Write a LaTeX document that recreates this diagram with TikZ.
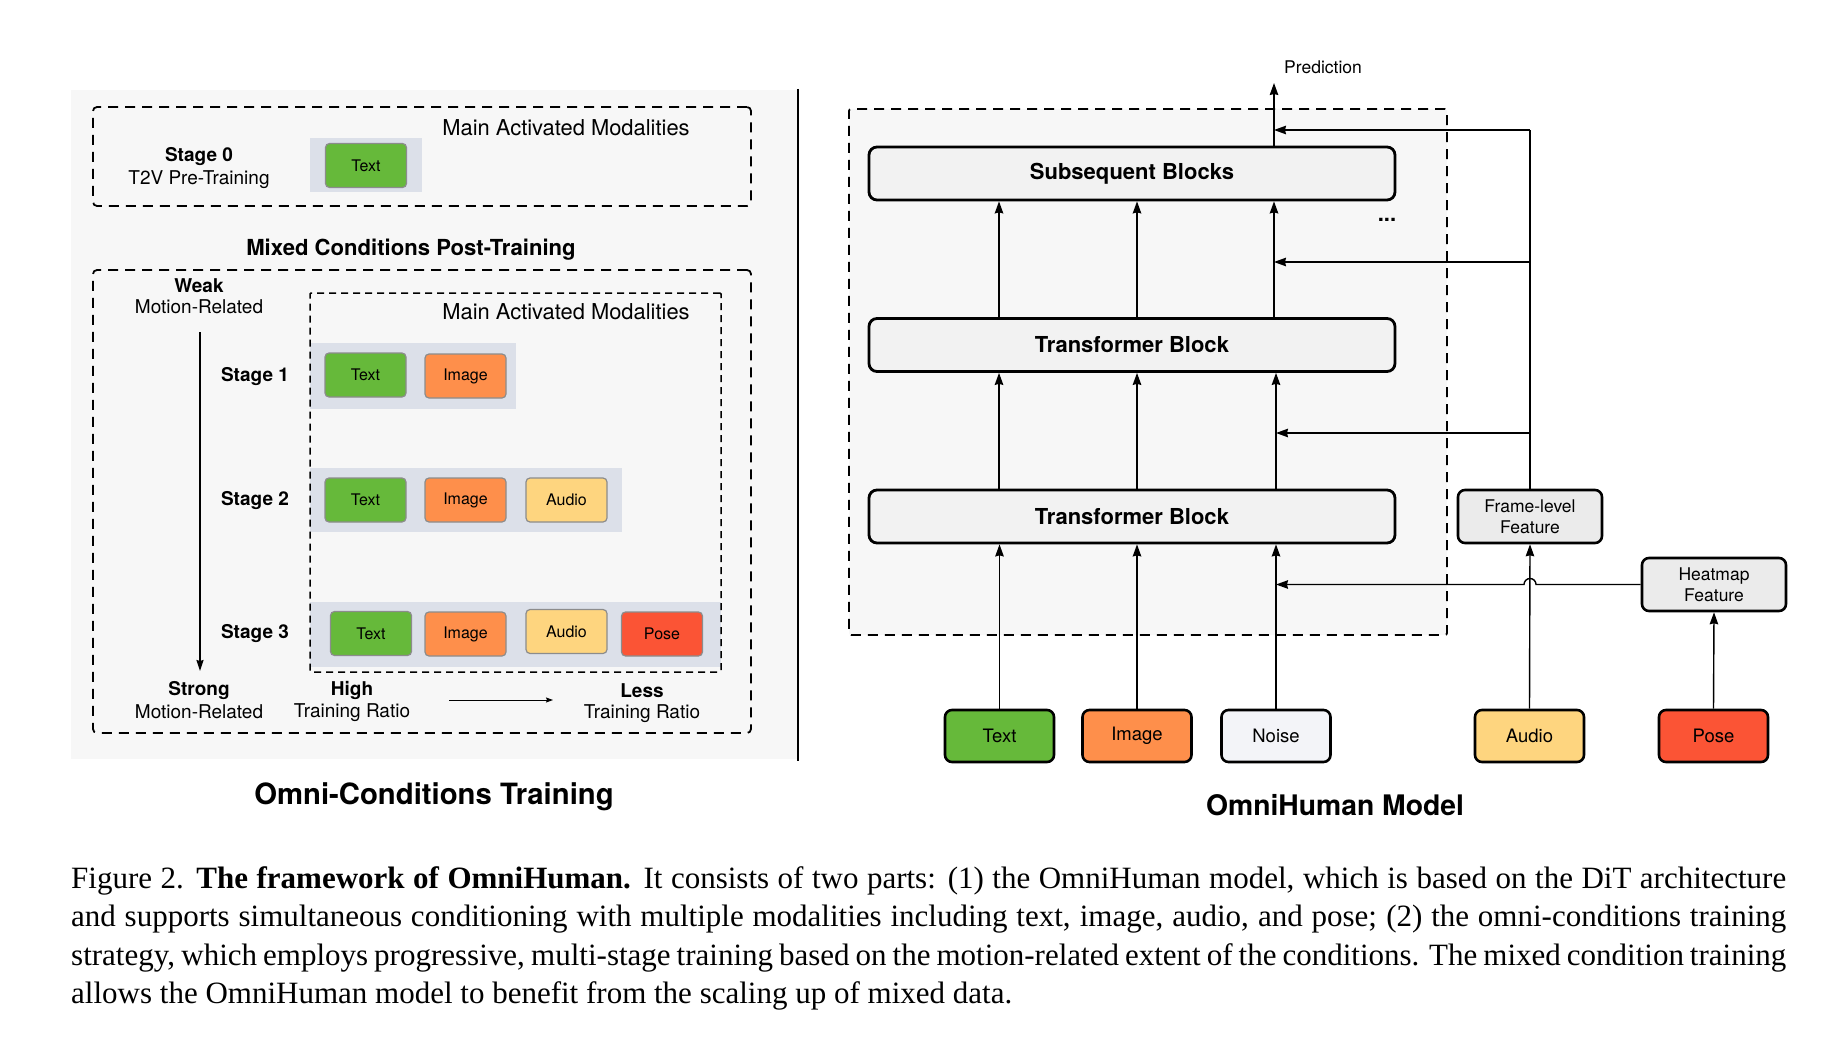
\documentclass[tikz,border=0pt]{standalone}
\usepackage{fontspec}
\setmainfont{Liberation Serif}
\newfontfamily\hv{TeX Gyre Heros}
\usetikzlibrary{arrows.meta}
\definecolor{bgpanel}{HTML}{F7F7F7}
\definecolor{modpanel}{HTML}{DCE0E9}
\definecolor{cgreen}{HTML}{66B93A}
\definecolor{corange}{HTML}{FE8F4B}
\definecolor{cyellow}{HTML}{FED57F}
\definecolor{cred}{HTML}{FB5435}
\definecolor{cnoise}{HTML}{F3F4F8}
\definecolor{cblock}{HTML}{F2F2F2}
\definecolor{cfeat}{HTML}{EBEBEB}
\begin{document}
\begin{tikzpicture}[x=1pt,y=-1pt,
  dbox/.style={draw, line width=1.8pt, dash pattern=on 10pt off 7pt, rounded corners=4pt, inner sep=0pt},
  panel/.style={fill=modpanel, inner sep=0pt},
  modbox/.style={draw=black!45, line width=1.2pt, rounded corners=4pt, minimum width=81pt, minimum height=44pt, inner sep=0pt, font=\hv\fontsize{16}{19}\selectfont},
  inbox/.style={draw=black, line width=2.6pt, rounded corners=7pt, minimum width=109pt, minimum height=52pt, inner sep=0pt, font=\hv\fontsize{18.5}{22}\selectfont},
  block/.style={draw=black, fill=cblock, line width=2.8pt, rounded corners=8pt, minimum width=526pt, minimum height=53pt, inner sep=0pt, font=\hv\bfseries\fontsize{22}{26}\selectfont},
  feat/.style={draw=black, fill=cfeat, line width=2.6pt, rounded corners=7pt, minimum width=144pt, minimum height=53pt, inner sep=0pt, align=center, font=\hv\fontsize{17.5}{19}\selectfont},
  lbl/.style={inner sep=0pt, font=\hv\fontsize{19}{22}\selectfont},
  blbl/.style={inner sep=0pt, font=\hv\bfseries\fontsize{19}{22}\selectfont},
  arr/.style={line width=1.4pt, -{Stealth[length=12pt,width=8.5pt,inset=1pt]}},
  ln/.style={line width=1.4pt}
]
\useasboundingbox (0,0) rectangle (1848,1038);
% ---------- left panel ----------
\fill[bgpanel] (71,90) rectangle (798,759);
\draw[line width=2pt] (798,89) -- (798,761);

\node[dbox, minimum width=658pt, minimum height=99pt] (s0frame) at (422,156.5) {};
\node[dbox, minimum width=658pt, minimum height=463pt] (mixframe) at (422,501.5) {};

\node[panel, minimum width=112pt, minimum height=54pt] (p0) at (366,165) {};
\node[panel, minimum width=206pt, minimum height=66pt] (p1) at (413,376) {};
\node[panel, minimum width=312pt, minimum height=64pt] (p2) at (466,500) {};
\node[panel, minimum width=411pt, minimum height=65pt] (p3) at (515.5,634.5) {};

\node[dbox, line width=1.5pt, dash pattern=on 7pt off 5pt, rounded corners=1pt, minimum width=411pt, minimum height=379pt] (inframe) at (515.5,482.5) {};

\node[lbl, font=\hv\fontsize{21.9}{25}\selectfont] (mam0) at (566,128) {Main Activated Modalities};
\node[lbl, font=\hv\fontsize{21.9}{25}\selectfont] (mam1) at (566,312) {Main Activated Modalities};

\node[blbl] (st0) at (199,156.5) {Stage 0};
\node[lbl] (t2v) at (199,179.5) {T2V Pre-Training};

\node[modbox, fill=cgreen] (s0t) at (366,165.5) {Text};

\node[blbl, font=\hv\bfseries\fontsize{22.1}{25}\selectfont] (mixed) at (411,250) {Mixed Conditions Post-Training};

\node[blbl] (weak) at (199,286) {Weak};
\node[lbl] (weakmr) at (199,307) {Motion-Related};
\node[blbl] (strong) at (199,691) {Strong};
\node[lbl] (strongmr) at (199,712) {Motion-Related};
\coordinate (vtop) at (200,332);
\coordinate (vbot) at (200,671);
\draw[line width=1.3pt, -{Stealth[length=11pt,width=7pt,inset=1pt]}] (vtop) -- (vbot);

\node[blbl] (st1) at (255,376.5) {Stage 1};
\node[blbl] (st2) at (255,500.5) {Stage 2};
\node[blbl] (st3) at (255,633.5) {Stage 3};

\node[modbox, fill=cgreen] (s1t) at (365.5,375) {Text};
\node[modbox, fill=corange] (s1i) at (465.5,376) {Image};
\node[modbox, fill=cgreen] (s2t) at (365.5,500) {Text};
\node[modbox, fill=corange] (s2i) at (465.5,500) {Image};
\node[modbox, fill=cyellow] (s2a) at (566.5,500) {Audio};
\node[modbox, fill=cgreen] (s3t) at (371,633.5) {Text};
\node[modbox, fill=corange] (s3i) at (465.5,634) {Image};
\node[modbox, fill=cyellow] (s3a) at (566.5,631.5) {Audio};
\node[modbox, fill=cred] (s3p) at (662,634) {Pose};

\node[blbl] (high) at (352,690) {High};
\node[lbl] (hightr) at (352,713) {Training Ratio};
\node[blbl] (less) at (642,691) {Less};
\node[lbl] (lesstr) at (642,714) {Training Ratio};
\coordinate (ha) at (449,700);
\coordinate (hb) at (553,700);
\draw[line width=1pt, -{Stealth[length=7pt,width=5pt,inset=1pt]}] (ha) -- (hb);

\node[inner sep=0pt, font=\hv\bfseries\fontsize{29.3}{33}\selectfont] (octitle) at (434,797) {Omni-Conditions Training};

% ---------- right panel ----------
\node[dbox, fill=bgpanel, rounded corners=2pt, minimum width=598pt, minimum height=526pt] (model) at (1148,372) {};

\node[block] (sb) at (1132,173.5) {Subsequent Blocks};
\node[block] (tb2) at (1132,345) {Transformer Block};
\node[block] (tb1) at (1132,516.5) {Transformer Block};

\node[feat] (fl) at (1530,516.5) {Frame-level\\[1.5pt]Feature};
\node[feat] (hm) at (1714,584.5) {Heatmap\\[1.5pt]Feature};

\node[inbox, fill=cgreen] (it) at (999.5,736) {Text};
\node[inbox, fill=corange] (ii) at (1137,736) {Image};
\node[inbox, fill=cnoise] (in) at (1276,736) {Noise};
\node[inbox, fill=cyellow] (ia) at (1529.5,736) {Audio};
\node[inbox, fill=cred] (ip) at (1713.5,736) {Pose};

\node[lbl, font=\hv\fontsize{17.5}{20}\selectfont] (pred) at (1323,67) {Prediction};
\coordinate (predtip) at (1274,83);
\draw[arr] (sb.north -| predtip) -- (predtip);

\node[inner sep=0pt, font=\hv\bfseries\fontsize{22}{24}\selectfont] (dots) at (1387,220) {...};

% columns
\coordinate (c1) at (999,0);
\coordinate (c2) at (1137,0);
\coordinate (c3) at (1274,0);
\coordinate (c3b) at (1276,0);
\foreach \c in {c1,c2,c3}{
  \draw[arr] (tb2.north -| \c) -- (sb.south -| \c);
}
\foreach \c in {c1,c2,c3b}{
  \draw[arr] (tb1.north -| \c) -- (tb2.south -| \c);
}
\draw[arr] (it.north) -- (tb1.south -| it.north);
\draw[arr] (ii.north) -- (tb1.south -| ii.north);
\draw[arr] (in.north) -- (tb1.south -| in.north);

% frame-level feature injections
\coordinate (j0) at (1530,130);
\coordinate (j1) at (1530,262);
\coordinate (j2) at (1530,433);
\coordinate (t0) at (1274,130);
\coordinate (t1) at (1274,262);
\coordinate (t2) at (1276,433);
\draw[ln] (fl.north) -- (j0);
\draw[arr] (j0) -- (t0);
\draw[arr] (j1) -- (t1);
\draw[arr] (j2) -- (t2);

\draw[arr] (ia.north) -- (fl.south);
\draw[arr] (ip.north) -- (hm.south);

% heatmap feature with hop over audio line
\coordinate (h1) at (1536,584.5);
\coordinate (h2) at (1276,584.5);
\draw[arr] (hm.west) -- (h1) arc (0:-180:6) -- (h2);

\node[inner sep=0pt, font=\hv\bfseries\fontsize{28.3}{32}\selectfont] (omtitle) at (1335,805) {OmniHuman Model};

% ---------- caption ----------
\node[anchor=north west, inner sep=0pt, text width=1715pt, align=justify, font=\fontsize{31}{38.5}\selectfont] (caption) at (71,866)
{Figure 2. \textbf{The framework of OmniHuman.} It consists of two parts: (1) the OmniHuman model, which is based on the DiT architecture\linebreak
and supports simultaneous conditioning with multiple modalities including text, image, audio, and pose; (2) the omni-conditions training\linebreak
strategy, which employs progressive, multi-stage training based on the motion-related extent of the conditions. The mixed condition training\linebreak
allows the OmniHuman model to benefit from the scaling up of mixed data.};
\end{tikzpicture}
\end{document}
